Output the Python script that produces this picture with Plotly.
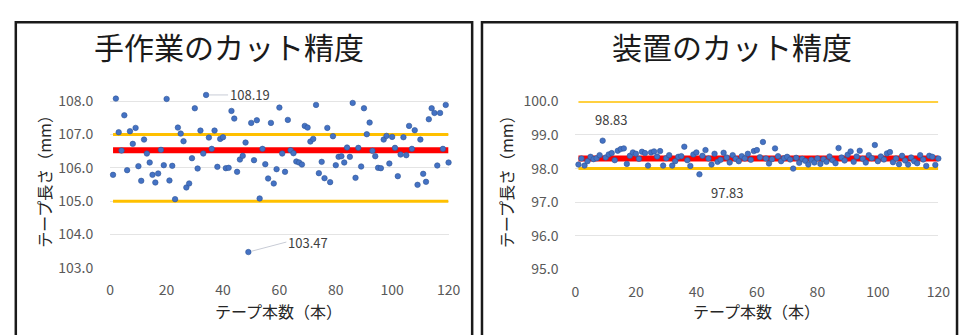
import plotly.graph_objects as go

W, H = 971, 335

# Sample index (tape number) shared by both panels
sample_no = list(range(1, 121))

# Manual cutting: measured tape length (mm)
manual_len = [
    105.79, 108.08, 107.07, 106.52, 107.58, 105.93, 107.10, 106.72, 107.20, 106.05,
    105.61, 106.85, 106.43, 106.16, 105.79, 105.56, 105.83, 106.54, 106.08, 108.07,
    105.62, 106.06, 105.06, 107.21, 107.03, 106.80, 105.41, 105.53, 106.29, 107.79,
    105.98, 107.12, 106.43, 108.19, 106.91, 106.57, 107.12, 106.03, 106.87, 106.92,
    105.99, 106.00, 107.71, 107.48, 105.88, 106.25, 106.36, 106.76, 103.47, 107.35,
    106.23, 107.43, 105.08, 106.57, 106.11, 105.68, 107.35, 105.53, 105.96, 107.81,
    106.43, 105.88, 107.44, 106.53, 106.44, 106.19, 106.16, 106.10, 107.26, 107.21,
    106.79, 106.87, 107.89, 105.84, 106.18, 105.69, 107.20, 105.57, 106.95, 106.08,
    106.33, 106.35, 106.16, 106.61, 106.33, 107.95, 105.70, 106.60, 106.04, 107.79,
    107.01, 107.36, 106.51, 106.35, 106.00, 105.99, 106.85, 106.96, 106.13, 106.93,
    106.60, 105.75, 106.40, 106.92, 106.38, 107.26, 106.57, 107.13, 105.49, 106.85,
    105.82, 105.58, 107.46, 107.79, 107.65, 106.07, 107.65, 106.57, 107.89, 106.16,
]

# Machine cutting: measured tape length (mm)
machine_len = [
    98.12, 98.30, 98.09, 98.22, 98.35, 98.28, 98.31, 98.40, 98.83, 98.33,
    98.42, 98.46, 98.25, 98.53, 98.58, 98.60, 98.14, 98.38, 98.48, 98.44,
    98.29, 98.50, 98.46, 98.09, 98.48, 98.51, 98.36, 98.52, 98.09, 98.31,
    98.40, 98.09, 98.22, 98.35, 98.37, 98.65, 98.25, 98.08, 98.42, 98.48,
    97.83, 98.38, 98.55, 98.30, 98.12, 98.44, 98.20, 98.26, 98.47, 98.33,
    98.18, 98.40, 98.29, 98.22, 98.37, 98.30, 98.44, 98.26, 98.52, 98.55,
    98.34, 98.79, 98.30, 98.15, 98.28, 98.60, 98.37, 98.22, 98.31, 98.35,
    98.27, 98.00, 98.32, 98.17, 98.29, 98.23, 98.12, 98.26, 98.18, 98.30,
    98.14, 98.28, 98.20, 98.36, 98.25, 98.16, 98.61, 98.33, 98.24, 98.41,
    98.51, 98.20, 98.36, 98.53, 98.29, 98.18, 98.40, 98.31, 98.70, 98.22,
    98.36, 98.27, 98.45, 98.49, 98.19, 98.30, 98.13, 98.38, 98.24, 98.12,
    98.33, 98.22, 98.16, 98.40, 98.27, 98.08, 98.38, 98.35, 98.11, 98.30,
]

# Reference lines: average and tolerance limits
manual_avg = 106.53
manual_limits = [105.0, 107.0]
machine_avg = 98.30
machine_limits = [98.0, 100.0]
ref_x = [1, 120]

x_ticks = [0, 20, 40, 60, 80, 100, 120]
manual_y_ticks = [103, 104, 105, 106, 107, 108]
machine_y_ticks = [95, 96, 97, 98, 99, 100]
# The manual axis runs a little past its top tick so the largest
# measurements above 108.0 stay visible.
manual_y_range = [103, 108.3]
machine_y_range = [95, 100]

FONT = "Noto Sans CJK JP"
BLUE = "#4472C4"
GOLD = "#FFC000"
RED = "#FF0000"
TICK_GREY = "#595959"
LEADER = "#C8CCD6"

# Plot-area placement in pixels: left/right edge and the pixel rows of the
# lowest and highest tick of each y axis.
L_X0, L_X1 = 108, 452
R_X0, R_X1 = 581, 950
L_Y_BOT, L_Y_TOPTICK = 273, 96
R_Y_BOT, R_Y_TOPTICK = 275, 96


def px_x(p):
    return p / W


def px_y(p):
    return 1 - p / H


def top_px(y_bot, y_toptick, ticks, rng):
    per_unit = (y_bot - y_toptick) / (ticks[-1] - ticks[0])
    return y_bot - (rng[1] - rng[0]) * per_unit


fig = go.Figure()

panels = [
    ("x", "y", manual_len, manual_avg, manual_limits),
    ("x2", "y2", machine_len, machine_avg, machine_limits),
]
for xa, ya, vals, avg, limits in panels:
    for lim in limits:
        fig.add_trace(go.Scatter(
            x=ref_x, y=[lim, lim], mode="lines", xaxis=xa, yaxis=ya,
            line=dict(color=GOLD, width=3), hoverinfo="skip", showlegend=False,
        ))
    fig.add_trace(go.Scatter(
        x=ref_x, y=[avg, avg], mode="lines", xaxis=xa, yaxis=ya,
        line=dict(color=RED, width=6), hoverinfo="skip", showlegend=False,
    ))
for xa, ya, vals, avg, limits in panels:
    fig.add_trace(go.Scatter(
        x=sample_no, y=vals, mode="markers", xaxis=xa, yaxis=ya,
        marker=dict(color=BLUE, size=5.5, line=dict(color="#2F5597", width=0.6)),
        cliponaxis=False, showlegend=False,
    ))

axis_common = dict(
    showline=False, zeroline=False, ticks="",
    tickfont=dict(family=FONT, size=14, color=TICK_GREY),
)

fig.update_layout(
    width=W, height=H, autosize=False,
    margin=dict(l=0, r=0, t=0, b=0),
    paper_bgcolor="white", plot_bgcolor="white",
    font=dict(family=FONT),
    xaxis=dict(domain=[px_x(L_X0), px_x(L_X1)], range=[0, 120], tickvals=x_ticks,
               showgrid=False, anchor="y", ticklabelstandoff=12, **axis_common),
    yaxis=dict(domain=[px_y(L_Y_BOT),
                       px_y(top_px(L_Y_BOT, L_Y_TOPTICK, manual_y_ticks, manual_y_range))],
               range=manual_y_range, tickvals=manual_y_ticks,
               tickformat=".1f", showgrid=True, gridcolor="#E4E4E4", gridwidth=1,
               anchor="x", ticklabelstandoff=16, **axis_common),
    xaxis2=dict(domain=[px_x(R_X0), px_x(R_X1)], range=[0, 120], tickvals=x_ticks,
                showgrid=False, anchor="y2", ticklabelstandoff=12, **axis_common),
    yaxis2=dict(domain=[px_y(R_Y_BOT),
                        px_y(top_px(R_Y_BOT, R_Y_TOPTICK, machine_y_ticks, machine_y_range))],
                range=machine_y_range, tickvals=machine_y_ticks,
                tickformat=".1f", showgrid=True, gridcolor="#E4E4E4", gridwidth=1,
                anchor="x2", ticklabelstandoff=16, **axis_common),
)

# Panel frames
for x0, x1 in [(12, 476), (486, 969)]:
    fig.add_shape(type="rect", xref="paper", yref="paper",
                  x0=px_x(x0), x1=px_x(x1), y0=-0.2, y1=px_y(12),
                  line=dict(color="#1A1A1A", width=2.5), fillcolor="rgba(0,0,0,0)")

title_font = dict(family=FONT, size=30, color="#1A1A1A")
axis_title_font = dict(family=FONT, size=16, color="#262626")
label_font = dict(family=FONT, size=13, color="#404040")

annotations = [
    dict(text="手作業のカット精度", x=px_x(229), y=px_y(37), font=title_font),
    dict(text="装置のカット精度", x=px_x(740), y=px_y(37), font=title_font),
    dict(text="テープ本数（本）", x=px_x(279), y=px_y(319), font=axis_title_font),
    dict(text="テープ本数（本）", x=px_x(765), y=px_y(319), font=axis_title_font),
    dict(text="テープ長さ（mm）", x=px_x(41), y=px_y(177), textangle=-90, font=axis_title_font),
    dict(text="テープ長さ（mm）", x=px_x(511), y=px_y(177), textangle=-90, font=axis_title_font),
]
for a in annotations:
    fig.add_annotation(xref="paper", yref="paper", showarrow=False,
                       xanchor="center", yanchor="middle", **a)

# Value labels for the extremes of the manual series, with leader lines
i_max = manual_len.index(max(manual_len))
i_min = manual_len.index(min(manual_len))
fig.add_annotation(x=sample_no[i_max], y=manual_len[i_max], xref="x", yref="y",
                   text=f"{manual_len[i_max]:.2f}", font=label_font,
                   showarrow=True, arrowhead=0, arrowwidth=1, arrowcolor=LEADER,
                   ax=22, ay=0, xanchor="left", standoff=3)
fig.add_annotation(x=sample_no[i_min], y=manual_len[i_min], xref="x", yref="y",
                   text=f"{manual_len[i_min]:.2f}", font=label_font,
                   showarrow=True, arrowhead=0, arrowwidth=1, arrowcolor=LEADER,
                   ax=38, ay=-10, xanchor="left", standoff=3)

# Value labels for the extremes of the machine series
j_max = machine_len.index(max(machine_len))
j_min = machine_len.index(min(machine_len))
fig.add_annotation(x=sample_no[j_max], y=machine_len[j_max], xref="x2", yref="y2",
                   text=f"{machine_len[j_max]:.2f}", font=label_font,
                   showarrow=False, xshift=8, yshift=21)
fig.add_annotation(x=sample_no[j_min], y=machine_len[j_min], xref="x2", yref="y2",
                   text=f"{machine_len[j_min]:.2f}", font=label_font,
                   showarrow=False, xshift=28, yshift=-18)

fig.write_html("out.html")
